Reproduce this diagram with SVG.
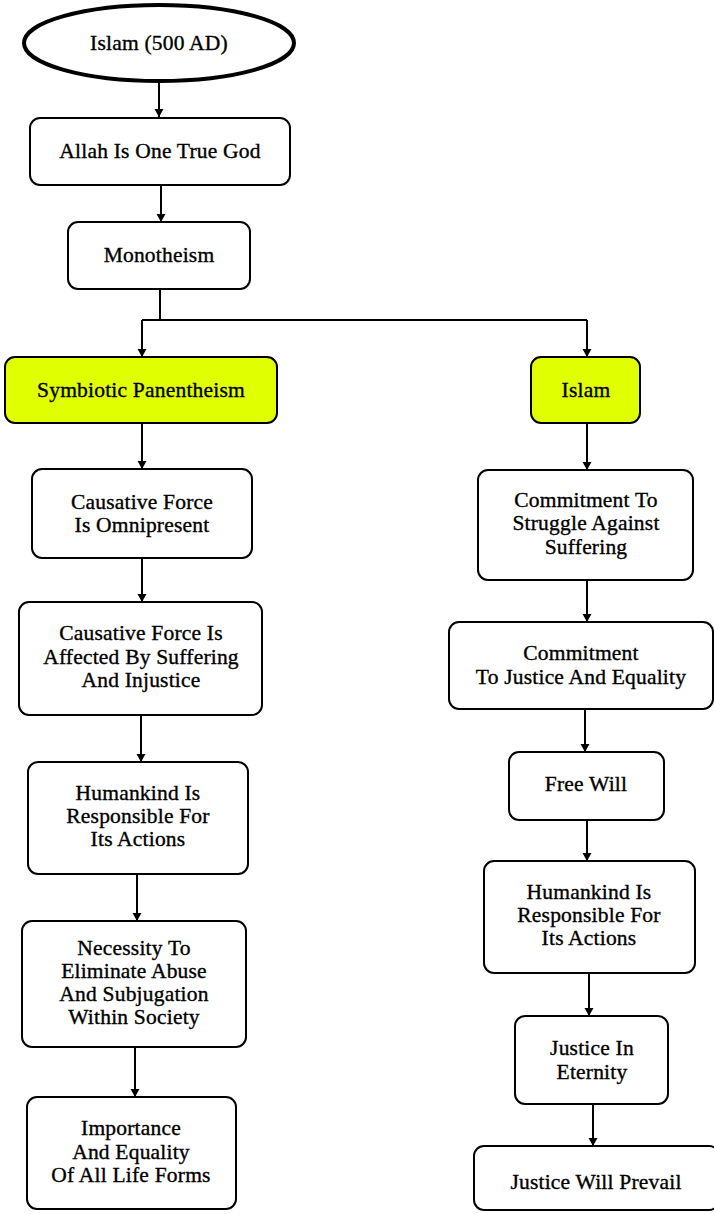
<svg xmlns="http://www.w3.org/2000/svg" width="714" height="1214" viewBox="0 0 714 1214">
<style>
.box{fill:#fff;stroke:#000;stroke-width:2}
.hl{fill:#e0ff00;stroke:#000;stroke-width:2}
.t{font-family:"Liberation Serif",serif;font-size:21.5px;fill:#000;stroke:#000;stroke-width:0.35;text-anchor:middle;letter-spacing:0.2px}
.c{fill:none;stroke:#000;stroke-width:2}
</style>
<defs>
<marker id="ah" markerWidth="8" markerHeight="10" refX="8" refY="5" orient="auto" markerUnits="userSpaceOnUse">
<path d="M0,0.5 L8,5 L0,9.5 Z" fill="#000"/>
</marker>
</defs>
<rect width="714" height="1214" fill="#fff"/>
<g id="connectors">
<path class="c" d="M159,82 V117" marker-end="url(#ah)"/>
<path class="c" d="M161,185 V222" marker-end="url(#ah)"/>
<path class="c" d="M160,289 V320 M142,320 H587"/>
<path class="c" d="M142,320 V357" marker-end="url(#ah)"/>
<path class="c" d="M587,320 V357" marker-end="url(#ah)"/>
<path class="c" d="M142,423 V469" marker-end="url(#ah)"/>
<path class="c" d="M142,558 V602" marker-end="url(#ah)"/>
<path class="c" d="M141,715 V762" marker-end="url(#ah)"/>
<path class="c" d="M137,874 V921" marker-end="url(#ah)"/>
<path class="c" d="M135,1047 V1097" marker-end="url(#ah)"/>
<path class="c" d="M587,423 V470" marker-end="url(#ah)"/>
<path class="c" d="M587,580 V622" marker-end="url(#ah)"/>
<path class="c" d="M585,709 V752" marker-end="url(#ah)"/>
<path class="c" d="M587,820 V861" marker-end="url(#ah)"/>
<path class="c" d="M589,973 V1016" marker-end="url(#ah)"/>
<path class="c" d="M593,1104 V1146" marker-end="url(#ah)"/>
</g>
<g id="n-islam500">
<ellipse cx="159" cy="43" rx="135" ry="38" fill="#fff" stroke="#000" stroke-width="4"/>
<text class="t" x="159" y="50">Islam (500 AD)</text>
</g>
<g id="n-allah">
<rect class="box" x="30" y="118" width="260" height="67" rx="10"/>
<text class="t" x="160" y="158">Allah Is One True God</text>
</g>
<g id="n-mono">
<rect class="box" x="68" y="222" width="182" height="67" rx="10"/>
<text class="t" x="159" y="262">Monotheism</text>
</g>
<g id="n-symb">
<rect class="hl" x="5" y="357" width="272" height="66" rx="10"/>
<text class="t" x="141" y="397">Symbiotic Panentheism</text>
</g>
<g id="n-islam">
<rect class="hl" x="531" y="357" width="109" height="66" rx="10"/>
<text class="t" x="586" y="397">Islam</text>
</g>
<g id="n-cf1">
<rect class="box" x="32" y="469" width="220" height="89" rx="10"/>
<text class="t" x="142" y="509">Causative Force</text>
<text class="t" x="142" y="532">Is Omnipresent</text>
</g>
<g id="n-cf2">
<rect class="box" x="19" y="602" width="243" height="113" rx="10"/>
<text class="t" x="141" y="640">Causative Force Is</text>
<text class="t" x="141" y="664">Affected By Suffering</text>
<text class="t" x="141" y="687">And Injustice</text>
</g>
<g id="n-hum1">
<rect class="box" x="28" y="762" width="220" height="112" rx="10"/>
<text class="t" x="138" y="800">Humankind Is</text>
<text class="t" x="138" y="823">Responsible For</text>
<text class="t" x="138" y="846">Its Actions</text>
</g>
<g id="n-nec">
<rect class="box" x="22" y="921" width="224" height="126" rx="10"/>
<text class="t" x="134" y="955">Necessity To</text>
<text class="t" x="134" y="978">Eliminate Abuse</text>
<text class="t" x="134" y="1001">And Subjugation</text>
<text class="t" x="134" y="1024">Within Society</text>
</g>
<g id="n-imp">
<rect class="box" x="27" y="1097" width="209" height="112" rx="10"/>
<text class="t" x="131" y="1135">Importance</text>
<text class="t" x="131" y="1159">And Equality</text>
<text class="t" x="131" y="1182">Of All Life Forms</text>
</g>
<g id="n-struggle">
<rect class="box" x="478" y="470" width="215" height="110" rx="10"/>
<text class="t" x="586" y="507">Commitment To</text>
<text class="t" x="586" y="530">Struggle Against</text>
<text class="t" x="586" y="554">Suffering</text>
</g>
<g id="n-justice">
<rect class="box" x="449" y="622" width="264" height="87" rx="10"/>
<text class="t" x="581" y="660">Commitment</text>
<text class="t" x="581" y="684">To Justice And Equality</text>
</g>
<g id="n-free">
<rect class="box" x="509" y="752" width="155" height="68" rx="10"/>
<text class="t" x="586" y="791">Free Will</text>
</g>
<g id="n-hum2">
<rect class="box" x="484" y="861" width="211" height="112" rx="10"/>
<text class="t" x="589" y="899">Humankind Is</text>
<text class="t" x="589" y="922">Responsible For</text>
<text class="t" x="589" y="945">Its Actions</text>
</g>
<g id="n-eternity">
<rect class="box" x="515" y="1016" width="153" height="88" rx="10"/>
<text class="t" x="592" y="1055">Justice In</text>
<text class="t" x="592" y="1079">Eternity</text>
</g>
<g id="n-prevail">
<rect class="box" x="474" y="1146" width="245" height="64" rx="10"/>
<text class="t" x="596" y="1189">Justice Will Prevail</text>
</g>
</svg>
